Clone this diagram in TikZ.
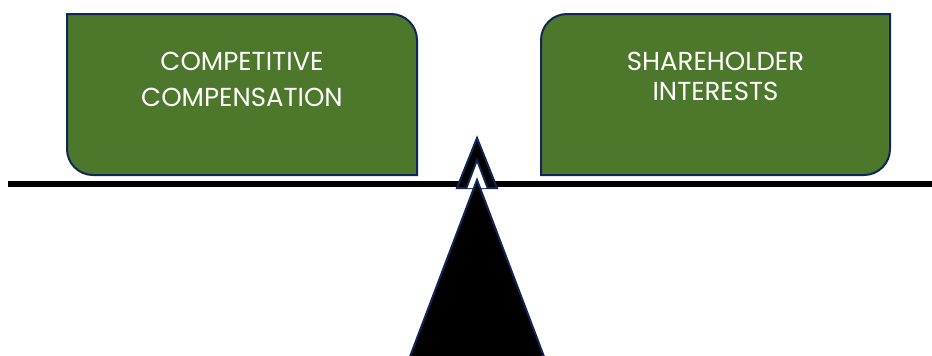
\documentclass[tikz,border=0pt]{standalone}
\usepackage{fontspec}
\setmainfont{Poppins}
\begin{document}
\definecolor{boxgreen}{RGB}{77,120,44}
\definecolor{edgenavy}{RGB}{16,38,86}
\tikzset{
  panel/.style={fill=boxgreen, draw=edgenavy, line width=2pt},
  panelText/.style={text=white, align=center, inner sep=0pt, anchor=base},
  beamBar/.style={fill=black, draw=none},
  pivotShape/.style={fill=black, draw=edgenavy, line width=2pt, line join=miter}
}
\begin{tikzpicture}[x=1pt, y=-1pt]
  \useasboundingbox (0,0) rectangle (932,356);

  % balance beam
  \path[beamBar] (8,181) rectangle (932,187);

  % left pan: competitive compensation (rounded top-right and bottom-left)
  \draw[panel] (67,14) [rounded corners=26pt] -- (417,14) [sharp corners] -- (417,175)
     [rounded corners=26pt] -- (67,175) [sharp corners] -- cycle;
  \node[panelText, font=\fontsize{26}{36}\selectfont] (pay) at (242,106)
     {COMPETITIVE\\COMPENSATION};

  % right pan: shareholder interests (rounded top-left and bottom-right)
  \draw[panel] (541,175) [rounded corners=26pt] -- (541,14) [sharp corners] -- (890,14)
     [rounded corners=26pt] -- (890,175) [sharp corners] -- cycle;
  \node[panelText, font=\fontsize{26}{30}\selectfont] (holders) at (715.5,100.7)
     {SHAREHOLDER\\INTERESTS};

  % pivot tip resting on the beam
  \coordinate (tip) at (477,138);
  \coordinate (tipL) at (457,188);
  \coordinate (tipR) at (497,188);
  \path[pivotShape] (tip) -- (tipL) -- (tipR) -- cycle;

  % fulcrum body, separated from the tip by a white gap
  \coordinate (apex) at (477,180);
  \coordinate (footL) at (409.5,358);
  \coordinate (footR) at (544.5,358);
  \begin{scope}
    \clip (tip) -- (tipL) -- (tipR) -- cycle;
    \draw[edgenavy, line width=16pt, line join=miter] (apex) -- (footL) -- (footR) -- cycle;
    \draw[white, line width=12pt, line join=miter] (apex) -- (footL) -- (footR) -- cycle;
  \end{scope}
  \path[pivotShape] (apex) -- (footL) -- (footR) -- cycle;
\end{tikzpicture}
\end{document}
